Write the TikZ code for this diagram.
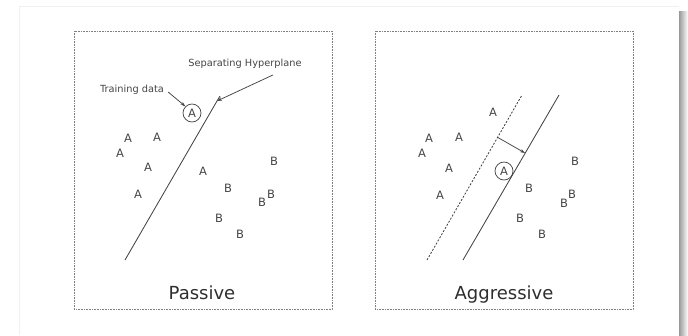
\documentclass[tikz,border=0pt]{standalone}
\usepackage{fontspec}
\setmainfont{DejaVu Sans}
\usetikzlibrary{arrows.meta}
\definecolor{inkgray}{HTML}{444444}
\definecolor{framegray}{HTML}{808080}

\begin{document}
\begin{tikzpicture}[
		x=1pt,
		y=-1pt,
		panel/.style={draw=framegray, line width=1pt, dash pattern=on 1pt off 0.6pt},
		pt/.style={text=inkgray, inner sep=0pt, font=\fontsize{11.5}{13}\selectfont},
		ringed/.style={pt, circle, draw=inkgray, line width=0.75pt, minimum size=18pt},
		callout/.style={text=inkgray, inner sep=1pt, font=\fontsize{9.8}{12}\selectfont},
		heading/.style={text=black!82, inner sep=0pt, anchor=base, font=\fontsize{18}{22}\selectfont},
		plane/.style={draw=inkgray, line width=0.85pt},
		margin/.style={plane, dash pattern=on 2pt off 1.6pt},
		pointer/.style={-{Stealth[length=5pt, width=3.4pt]}, draw=inkgray, line width=0.75pt}
		]
		\useasboundingbox (0,0) rectangle (688,335);
		
		% Page frame and shadow
		\draw[black!6, line width=0.8pt] (19,6) -- (679,6);
		\draw[black!6, line width=0.8pt] (19,6) -- (19,335);
		\shade[left color=black!40, right color=white] (679,11) rectangle (688,335);
		
		% Panels
		\draw[panel] (74,31) rectangle (332,309);
		\draw[panel] (375,31) rectangle (633,309);
		
		% Passive: class A
		\node[pt] (pa1) at (128,138) {A};
		\node[pt] (pa2) at (157,137) {A};
		\node[pt] (pa3) at (120,153) {A};
		\node[pt] (pa4) at (148,167) {A};
		\node[pt] (pa5) at (138,194) {A};
		\node[pt] (pa6) at (203,171) {A};
		\node[ringed] (ptrain) at (192,113) {A};
		
		% Passive: class B
		\node[pt] (pb1) at (274,161) {B};
		\node[pt] (pb2) at (228,188) {B};
		\node[pt] (pb3) at (271,194) {B};
		\node[pt] (pb4) at (262,202) {B};
		\node[pt] (pb5) at (219,218) {B};
		\node[pt] (pb6) at (240,234) {B};
		
		% Passive: hyperplane and labels
		\coordinate (pbot) at (125,260);
		\coordinate (ptop) at (217,101);
		\coordinate (ptip) at (220,96);
		\draw[plane] (pbot) -- (ptop) -- (ptip);
		\node[callout] (datalbl) at (132,90) {Training data};
		\node[callout] (planelbl) at (245,64) {Separating Hyperplane};
		\draw[pointer] (datalbl.east) ++(3,2) -- (ptrain.north west);
		\draw[pointer] (planelbl.south) ++(28,5) -- (ptop);
		\node[heading] (passive) at (202,299) {Passive};
		
		% Aggressive: class A
		\node[pt] (aa1) at (429,138) {A};
		\node[pt] (aa2) at (459,137) {A};
		\node[pt] (aa3) at (422,153) {A};
		\node[pt] (aa4) at (449,168) {A};
		\node[pt] (aa5) at (440,195) {A};
		\node[pt] (aa6) at (493,112) {A};
		\node[ringed] (atrain) at (504,171) {A};
		
		% Aggressive: class B
		\node[pt] (ab1) at (575,161) {B};
		\node[pt] (ab2) at (529,188) {B};
		\node[pt] (ab3) at (572,194) {B};
		\node[pt] (ab4) at (564,203) {B};
		\node[pt] (ab5) at (520,218) {B};
		\node[pt] (ab6) at (542,234) {B};
		
		% Aggressive: old and new hyperplane
		\coordinate (obot) at (427,260);
		\coordinate (otop) at (522,95);
		\coordinate (nbot) at (463,260);
		\coordinate (ntop) at (559,95);
		\draw[margin] (obot) -- (otop);
		\draw[plane] (nbot) -- (ntop);
		\coordinate (shiftfrom) at (497,137);
		\coordinate (shiftto) at (525,153);
		\draw[pointer] (shiftfrom) -- (shiftto);
		\node[heading] (aggressive) at (504,299) {Aggressive};
	\end{tikzpicture}
\end{document}
